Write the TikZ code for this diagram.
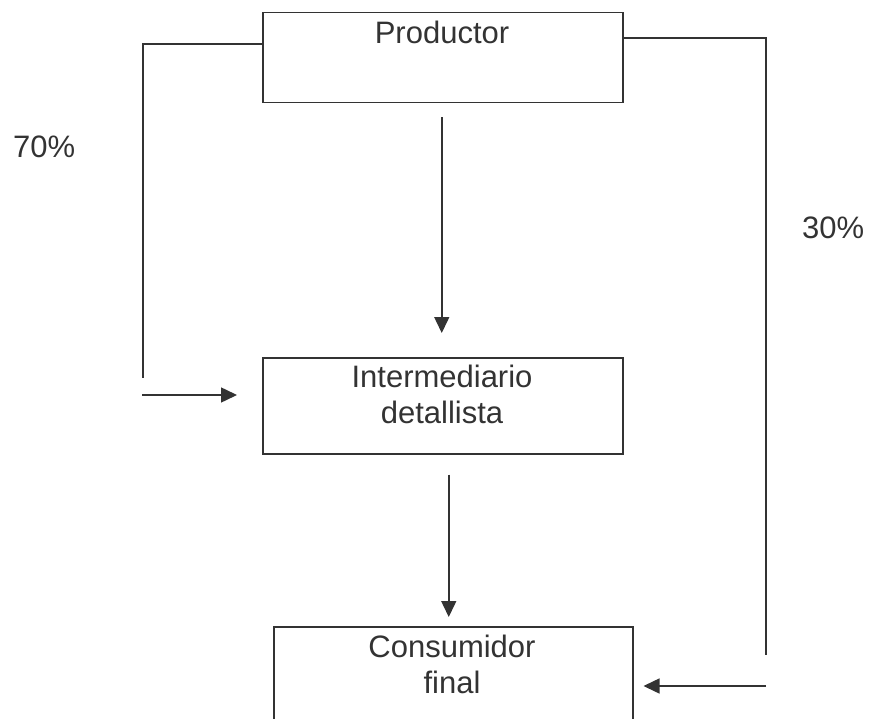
\documentclass[tikz,border=0pt]{standalone}
\usepackage{fontspec}
\setmainfont{Liberation Sans}
\usetikzlibrary{arrows.meta}
\definecolor{ink}{HTML}{333333}
\tikzset{
  box/.style={draw=ink, line width=1.5pt, anchor=north west, inner sep=0pt, minimum width=#1},
  lbl/.style={text=ink, font=\fontsize{31}{36}\selectfont, align=center, inner sep=0pt},
  conn/.style={draw=ink, line width=1.5pt},
  arr/.style={conn, -{Triangle[length=16pt,width=15pt]}}
}
\begin{document}
\begin{tikzpicture}[x=1pt,y=-1pt]
\useasboundingbox (0,0) rectangle (869,719);
\clip (0,0) rectangle (869,719);
% boxes
\node[box=360pt, minimum height=90pt] (P) at (262,12) {};
\node[box=360pt, minimum height=96pt] (I) at (262,357) {};
\node[box=359pt, minimum height=120pt] (C) at (273,626) {};
% texts
\node[lbl, anchor=north] (tP) at (442,20.4) {Productor};
\node[lbl, anchor=north] (tI) at (442,364.4) {Intermediario\\detallista};
\node[lbl, anchor=north] (tC) at (452,634.4) {Consumidor\\final};
\node[lbl, anchor=base west] (p70) at (13,158) {70\%};
\node[lbl, anchor=base west] (p30) at (802,238) {30\%};
% free ends
\coordinate (l1) at (143,44);
\coordinate (l2) at (143,378);
\coordinate (l3) at (142,395);
\coordinate (r1) at (766,38);
\coordinate (r2) at (766,655);
\coordinate (r3) at (766,686);
% connectors
\draw[conn] (P.west |- l1) -- (l1) -- (l2);
\draw[arr, shorten >=25pt] (l3) -- (I.west |- l3);
\draw[conn] (P.east |- r1) -- (r1) -- (r2);
\draw[arr, shorten >=10pt] (r3) -- (C.east |- r3);
\draw[arr, shorten <=14pt, shorten >=24pt] ([xshift=-1pt]P.south) -- ([xshift=-1pt]I.north);
\draw[arr, shorten <=20pt, shorten >=9pt] ([xshift=6pt]I.south) -- ([xshift=6pt]I.south |- C.north);
\end{tikzpicture}
\end{document}
